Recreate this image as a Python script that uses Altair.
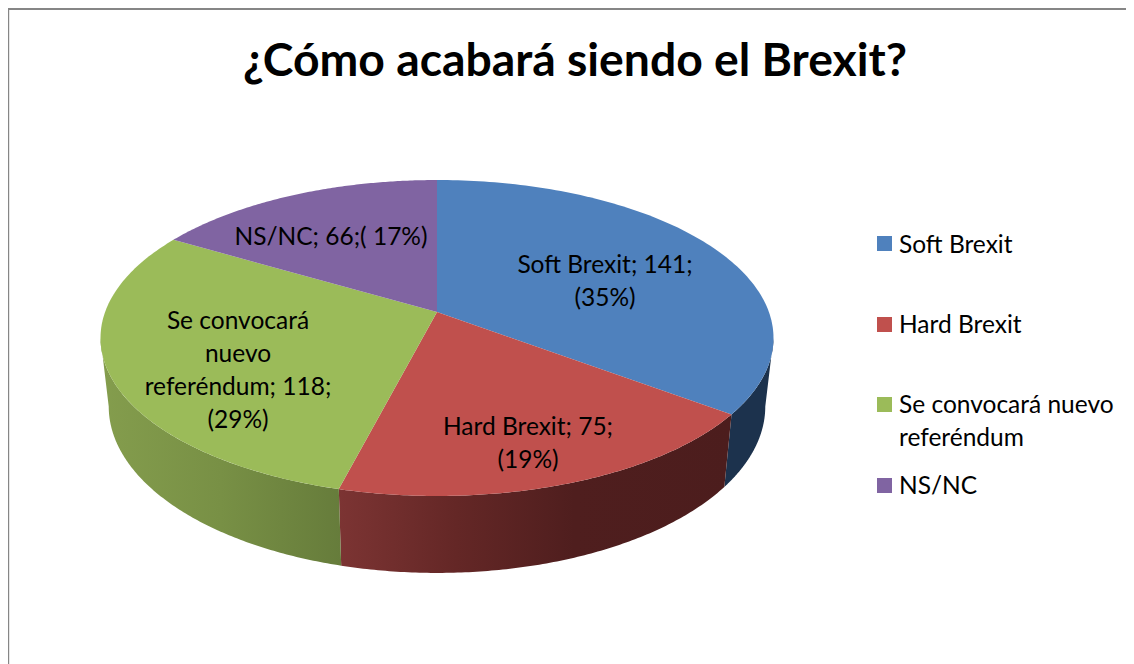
import math
import altair as alt
import pandas as pd

TITLE = "¿Cómo acabará siendo el Brexit?"
categories = ["Soft Brexit", "Hard Brexit", "Se convocará nuevo referéndum", "NS/NC"]
values = [141, 75, 118, 66]
face_colors = ["#4F81BD", "#C0504D", "#9BBB59", "#8064A2"]
label_lines = [
    ["Soft Brexit; 141;", "(35%)"],
    ["Hard Brexit; 75;", "(19%)"],
    ["Se convocará", "nuevo", "referéndum; 118;", "(29%)"],
    ["NS/NC; 66;( 17%)"],
]
legend_lines = [["Soft Brexit"], ["Hard Brexit"], ["Se convocará nuevo", "referéndum"], ["NS/NC"]]

# layout, in page pixels
FONT = "Lato"
LABEL_SIZE = 24.5
LABEL_STEP = 33
label_pos = [(605, 266), (528, 428), (238, 322), (331, 238)]
legend_y = [243.5, 324.5, 404.5, 485.5]
legend_text_y = [246, 326, 406, 487]
CX = 437
K = 0.1646
TOP = dict(yc=312, a=331.9, b=153.7)
BOT = dict(yc=379, a=323.8, b=162.0)

XS = alt.Scale(domain=[8, 1126], nice=False, zero=False)
YS = alt.Scale(domain=[664, 8], nice=False, zero=False)
X = lambda f="x": alt.X(f"{f}:Q", scale=XS, axis=None)
Y = lambda f="y": alt.Y(f"{f}:Q", scale=YS, axis=None)


def project(theta, plane):
    sx, sy = math.sin(theta), -math.cos(theta)
    d = 1 - K * sy
    return CX + plane["a"] * sx / d, plane["yc"] + plane["b"] * sy / d


def sweep(t0, t1, n=120):
    return [t0 + (t1 - t0) * i / n for i in range(n + 1)]


total = sum(values)
bounds = [0.0]
for v in values:
    bounds.append(bounds[-1] + v / total * 2 * math.pi)


def polygon(pts, fill):
    df = pd.DataFrame({"x": [p[0] for p in pts], "y": [p[1] for p in pts], "o": range(len(pts))})
    return (
        alt.Chart(df)
        .mark_line(fill=fill, stroke="transparent", strokeWidth=0, interpolate="linear")
        .encode(x=X(), y=Y(), order=alt.Order("o:Q"))
    )


def wall(t0, t1, fill):
    ts = sweep(t0, t1)
    pts = [project(t, TOP) for t in ts] + [project(t, BOT) for t in reversed(ts)]
    return polygon(pts, fill)


def grad(stops):
    return alt.Gradient(
        gradient="linear", x1=0, y1=0, x2=1, y2=0,
        stops=[alt.GradientStop(offset=o, color=c) for o, c in stops],
    )


layers = []
# frame
frame = pd.DataFrame({"a": [0]})
layers.append(alt.Chart(frame).mark_rule(color="#868686", strokeWidth=2).encode(
    x=alt.value(0), x2=alt.value(1118), y=alt.value(1), y2=alt.value(1)))
layers.append(alt.Chart(frame).mark_rule(color="#868686", strokeWidth=2).encode(
    x=alt.value(0.2), x2=alt.value(0.2), y=alt.value(0), y2=alt.value(656)))

# side walls
layers.append(wall(math.radians(99.5), bounds[1], "#1C324D"))
layers.append(wall(bounds[1], bounds[2], grad([(0, "#7C3433"), (0.3, "#642726"), (0.6, "#4F1E1E"), (1, "#4C1D1D")])))
layers.append(wall(bounds[2], math.radians(260.5), grad([(0, "#849D4D"), (0.5, "#789045"), (1, "#667C3B")])))

# top faces
for i, c in enumerate(face_colors):
    pts = [(CX, TOP["yc"])] + [project(t, TOP) for t in sweep(bounds[i], bounds[i + 1])]
    layers.append(polygon(pts, c))

# slice labels
rows = []
for lines, (lx, ly) in zip(label_lines, label_pos):
    for j, t in enumerate(lines):
        rows.append({"x": lx, "y": ly + j * LABEL_STEP, "t": t})
layers.append(
    alt.Chart(pd.DataFrame(rows))
    .mark_text(font=FONT, fontSize=LABEL_SIZE, color="#000000", align="center", baseline="middle")
    .encode(x=X(), y=Y(), text="t:N")
)

# legend
layers.append(
    alt.Chart(pd.DataFrame({"x": [884.5] * 4, "y": legend_y, "c": face_colors}))
    .mark_square(size=225, opacity=1)
    .encode(x=X(), y=Y(), color=alt.Color("c:N", scale=None))
)
rows = []
for lines, ly in zip(legend_lines, legend_text_y):
    for j, t in enumerate(lines):
        rows.append({"x": 899, "y": ly + j * LABEL_STEP, "t": t})
layers.append(
    alt.Chart(pd.DataFrame(rows))
    .mark_text(font=FONT, fontSize=LABEL_SIZE, color="#000000", align="left", baseline="middle")
    .encode(x=X(), y=Y(), text="t:N")
)

# title
layers.append(
    alt.Chart(pd.DataFrame({"x": [575], "y": [61.5], "t": [TITLE]}))
    .mark_text(font=FONT, fontSize=46.3, fontWeight="bold", color="#000000", align="center", baseline="middle")
    .encode(x=X(), y=Y(), text="t:N")
)

chart = (
    alt.layer(*layers)
    .properties(
        width=1118,
        height=656,
        padding=0,
        autosize=alt.AutoSizeParams(type="none"),
        background="#FFFFFF",
    )
    .configure_view(stroke=None)
)
chart.save("out.html", embed_options={"renderer": "svg", "actions": False})
